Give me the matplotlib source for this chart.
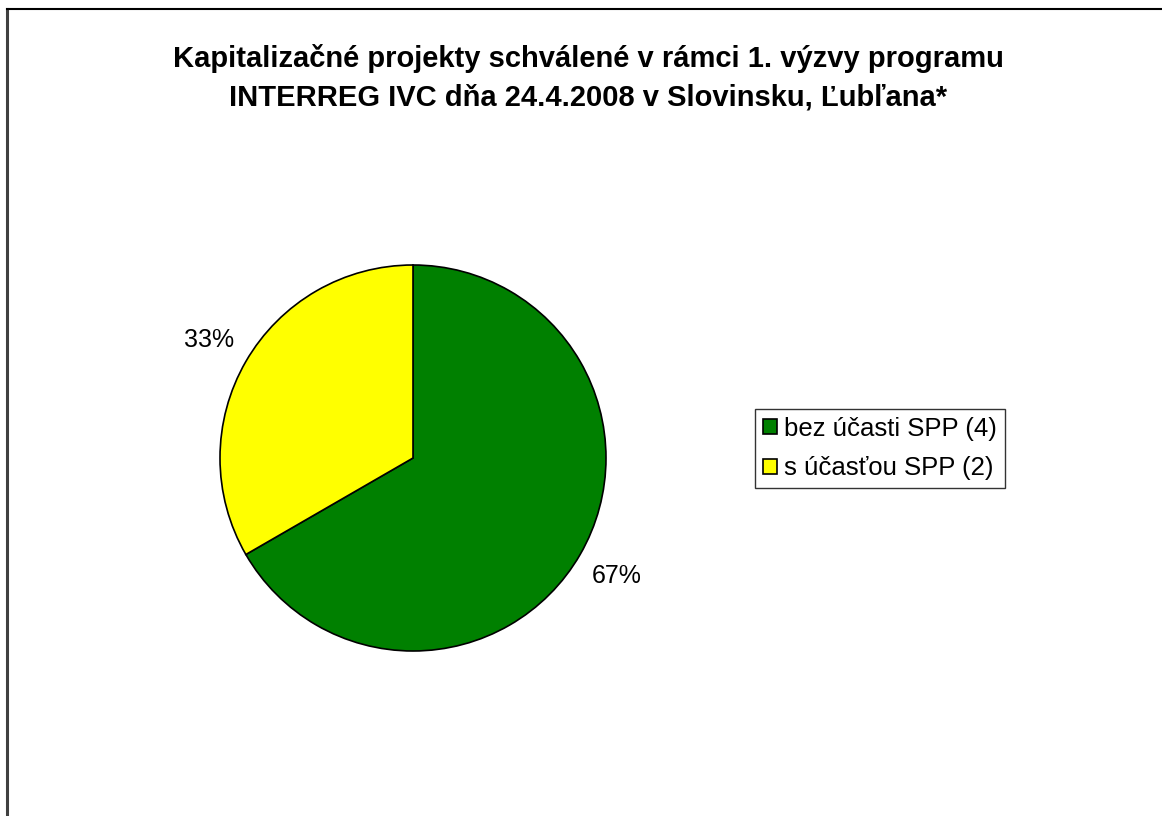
import matplotlib
matplotlib.use('Agg')
import matplotlib.pyplot as plt
from matplotlib.lines import Line2D
import numpy as np

plt.rcParams['font.family'] = ['Liberation Sans', 'DejaVu Sans']

title = 'Kapitalizačné projekty schválené v rámci 1. výzvy programu\nINTERREG IVC dňa 24.4.2008 v Slovinsku, Ľubľana*'
labels = ['bez účasti SPP (4)', 's účasťou SPP (2)']
values = [4, 2]
colors = ['#008000', '#FFFF00']

W, H = 1162, 816
fig = plt.figure(figsize=(W / 100, H / 100), dpi=100)

# frame: only left and top edges visible
fig.add_artist(Line2D([7 / W, 7 / W], [0, 1 - 9 / H], transform=fig.transFigure, color='#404040', lw=2.2))
fig.add_artist(Line2D([7 / W, 1], [1 - 9 / H, 1 - 9 / H], transform=fig.transFigure, color='black', lw=1.5))

fig.text(588 / W, 1 - 77.5 / H, title, ha='center', va='center', fontsize=21,
         fontweight='bold', linespacing=1.48)

cx, cy, r = 413, 458, 193
ax = fig.add_axes([(cx - r) / W, (H - cy - r) / H, 2 * r / W, 2 * r / H])
wedges, texts = ax.pie(values, colors=colors, startangle=90, counterclock=False, radius=1,
                       wedgeprops=dict(edgecolor='black', linewidth=1.2))
total = sum(values)
for w, v in zip(wedges, values):
    ang = np.deg2rad((w.theta1 + w.theta2) / 2)
    ax.text(1.22 * np.cos(ang), 1.22 * np.sin(ang), '{:.0f}%'.format(100 * v / total),
            ha='center', va='center', fontsize=18)
ax.set_xlim(-1, 1)
ax.set_ylim(-1, 1)
ax.set_aspect('equal')
ax.axis('off')

handles = [plt.Rectangle((0, 0), 1, 1, facecolor=c, edgecolor='black', linewidth=1.2) for c in colors]
leg = fig.legend(handles, labels, loc='center', bbox_to_anchor=(880 / W, 1 - 448.5 / H),
                 fontsize=18.5, frameon=True, fancybox=False, edgecolor='black',
                 handlelength=0.55, handleheight=0.55, handletextpad=0.3,
                 labelspacing=0.62, borderpad=0.28, borderaxespad=0)
leg.get_frame().set_linewidth(1.0)

fig.savefig('out.png', dpi=100)
